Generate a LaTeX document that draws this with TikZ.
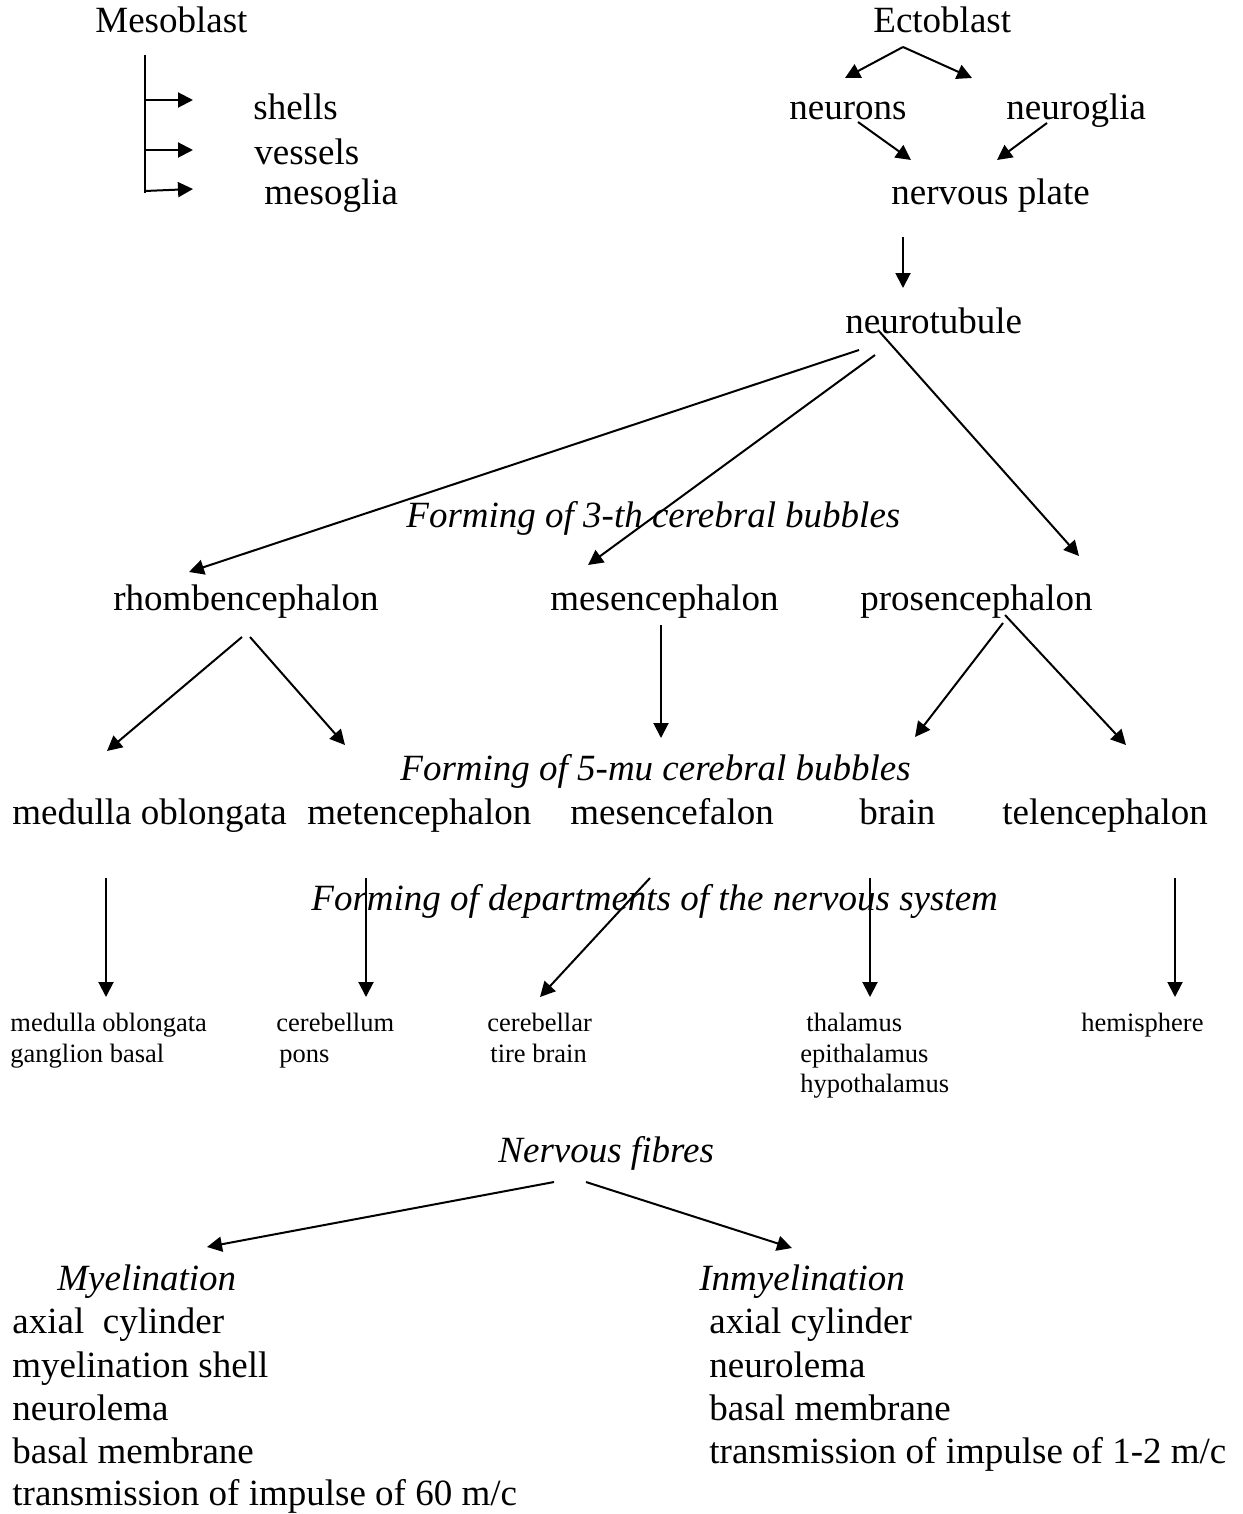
\documentclass[tikz,border=0pt]{standalone}
\usepackage{fontspec}
\setmainfont{Liberation Serif}
\usetikzlibrary{arrows.meta}
\begin{document}
\begin{tikzpicture}[x=0.5pt,y=-0.5pt]
\tikzset{
  lbl/.style={anchor=base west, inner sep=0pt, font=\fontsize{18.5}{22}\selectfont},
  itl/.style={anchor=base west, inner sep=0pt, font=\fontsize{18.5}{22}\selectfont\itshape},
  sml/.style={anchor=base west, inner sep=0pt, font=\fontsize{13.25}{16}\selectfont},
  ln/.style={line width=1pt},
  arr/.style={line width=1pt, -{Triangle[length=7.5pt,width=7.5pt]}}
}
\useasboundingbox[fill=white] (0,0) rectangle (1242,1514);

% --- origins
\node[lbl] (meso) at (95,33) {Mesoblast};
\node[lbl] (shells) at (253,120) {shells};
\node[lbl] (vessels) at (254,165) {vessels};
\node[lbl] (mesoglia) at (264,205) {mesoglia};

\node[lbl] (ecto) at (873,33) {Ectoblast};
\node[lbl] (neurons) at (789,120) {neurons};
\node[lbl] (neuroglia) at (1006,120) {neuroglia};
\node[lbl] (plate) at (891,205) {nervous plate};
\node[lbl] (ntube) at (845,333) {neurotubule};

% --- three bubbles
\node[itl] (f3) at (406,527) {Forming of 3-th cerebral bubbles};
\node[lbl] (rhomb) at (113,610) {rhombencephalon};
\node[lbl] (mesen) at (550,610) {mesencephalon};
\node[lbl] (prosen) at (860,610) {prosencephalon};

% --- five bubbles
\node[itl] (f5) at (400,780) {Forming of 5-mu cerebral bubbles};
\node[lbl] (medulla) at (12,824) {medulla oblongata};
\node[lbl] (meten) at (307,824) {metencephalon};
\node[lbl] (mesenf) at (570,824) {mesencefalon};
\node[lbl] (brain) at (859,824) {brain};
\node[lbl] (telen) at (1002,824) {telencephalon};

% --- departments
\node[itl] (fdep) at (311,910) {Forming of departments of the nervous system};
\node[sml] (s1a) at (10,1031) {medulla oblongata};
\node[sml] (s1b) at (10,1062) {ganglion basal};
\node[sml] (s2a) at (276,1031) {cerebellum};
\node[sml] (s2b) at (279,1062) {pons};
\node[sml] (s3a) at (487,1031) {cerebellar};
\node[sml] (s3b) at (490,1062) {tire brain};
\node[sml] (s4a) at (806,1031) {thalamus};
\node[sml] (s4b) at (800,1062) {epithalamus};
\node[sml] (s4c) at (800,1092) {hypothalamus};
\node[sml] (s5) at (1081,1031) {hemisphere};

% --- fibres
\node[itl] (fibres) at (498,1162) {Nervous fibres};
\node[itl] (myel) at (57,1290) {Myelination};
\node[itl] (inmyel) at (699,1290) {Inmyelination};
\node[lbl] (m1) at (12,1333) {axial\ \ cylinder};
\node[lbl] (m2) at (12,1377) {myelination shell};
\node[lbl] (m3) at (12,1420) {neurolema};
\node[lbl] (m4) at (12,1463) {basal membrane};
\node[lbl] (m5) at (12,1505) {transmission of impulse of 60 m/c};
\node[lbl] (u1) at (709,1333) {axial cylinder};
\node[lbl] (u2) at (709,1377) {neurolema};
\node[lbl] (u3) at (709,1420) {basal membrane};
\node[lbl] (u4) at (709,1463) {transmission of impulse of 1-2 m/c};

% --- mesoblast bracket
\draw[ln] ([shift={(50,22)}]meso.base west) -- ([shift={(50,160)}]meso.base west);
\draw[arr] ([shift={(-108,-20)}]shells.base west) -- ([shift={(-60,-20)}]shells.base west);
\draw[arr] ([shift={(-109,-15)}]vessels.base west) -- ([shift={(-61,-15)}]vessels.base west);
\draw[arr] ([shift={(-119,-14)}]mesoglia.base west) -- ([shift={(-71,-16)}]mesoglia.base west);

% --- ectoblast branch
\draw[arr] ([shift={(30,14)}]ecto.base west) -- ([shift={(56,-42)}]neurons.base west);
\draw[arr] ([shift={(30,14)}]ecto.base west) -- ([shift={(-34,-42)}]neuroglia.base west);
\draw[arr] ([shift={(69,2)}]neurons.base west) -- ([shift={(20,-45)}]plate.base west);
\draw[arr] ([shift={(41,3)}]neuroglia.base west) -- ([shift={(106,-45)}]plate.base west);
\draw[arr] ([shift={(12,32)}]plate.base west) -- ([shift={(58,-45)}]ntube.base west);

% --- neurotubule to three bubbles
\draw[arr] ([shift={(14,17)}]ntube.base west) -- ([shift={(76,-38)}]rhomb.base west);
\draw[arr] ([shift={(30,22)}]ntube.base west) -- ([shift={(38,-45)}]mesen.base west);
\draw[arr] ([shift={(33,-3)}]ntube.base west) -- ([shift={(219,-54)}]prosen.base west);

% --- three to five bubbles
\draw[arr] ([shift={(129,27)}]rhomb.base west) -- ([shift={(95,-73)}]medulla.base west);
\draw[arr] ([shift={(137,27)}]rhomb.base west) -- ([shift={(38,-79)}]meten.base west);
\draw[arr] ([shift={(111,15)}]mesen.base west) -- ([shift={(91,-86)}]mesenf.base west);
\draw[arr] ([shift={(143,13)}]prosen.base west) -- ([shift={(56,-87)}]brain.base west);
\draw[arr] ([shift={(145,5)}]prosen.base west) -- ([shift={(124,-79)}]telen.base west);

% --- five bubbles to departments
\draw[arr] ([shift={(94,54)}]medulla.base west) -- ([shift={(96,-34)}]s1a.base west);
\draw[arr] ([shift={(59,54)}]meten.base west) -- ([shift={(90,-34)}]s2a.base west);
\draw[arr] ([shift={(80,54)}]mesenf.base west) -- ([shift={(53,-34)}]s3a.base west);
\draw[arr] ([shift={(11,54)}]brain.base west) -- ([shift={(64,-34)}]s4a.base west);
\draw[arr] ([shift={(173,54)}]telen.base west) -- ([shift={(94,-34)}]s5.base west);

% --- nervous fibres
\draw[arr] ([shift={(56,20)}]fibres.base west) -- ([shift={(150,-43)}]myel.base west);
\draw[arr] ([shift={(88,20)}]fibres.base west) -- ([shift={(93,-42)}]inmyel.base west);
\end{tikzpicture}
\end{document}
